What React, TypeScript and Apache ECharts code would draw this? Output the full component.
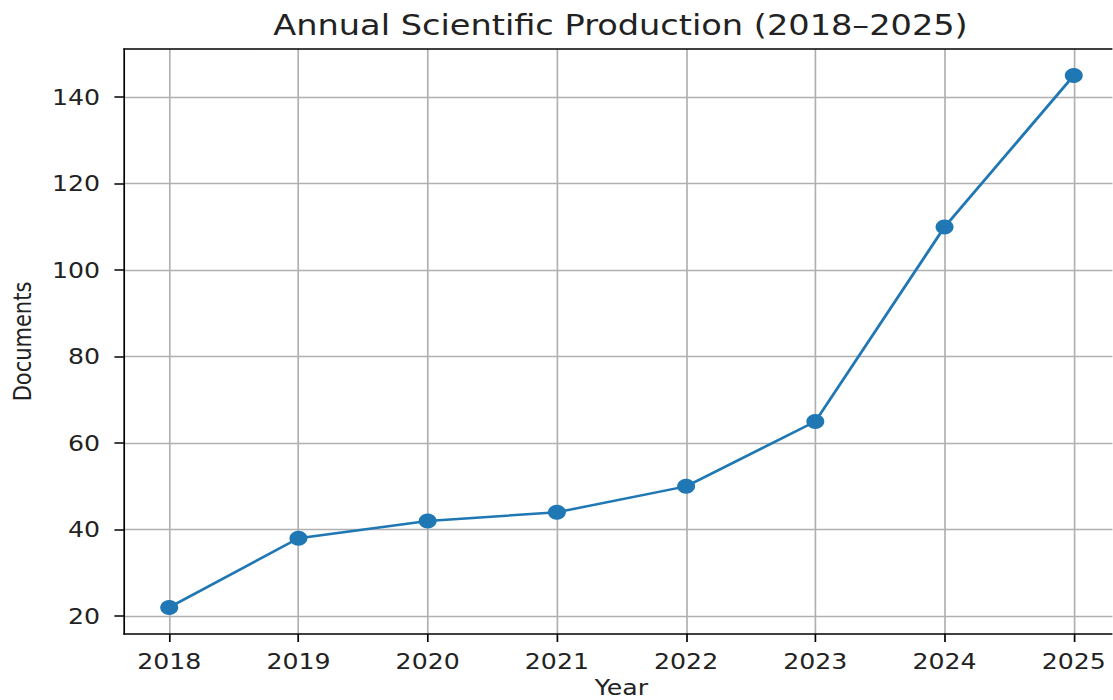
import React, { useEffect, useRef } from "react";
import * as echarts from "echarts";

const years = [2018, 2019, 2020, 2021, 2022, 2023, 2024, 2025];
const documents = [22, 38, 42, 44, 50, 65, 110, 145];
const yTicks = [20, 40, 60, 80, 100, 120, 140];
const title = "Annual Scientific Production (2018\u20132025)";
const xName = "Year";
const yName = "Documents";

// the reference image is stretched horizontally; reproduce by rendering narrower and scaling
const STRETCH = 1.2;
const W = 1113;
const H = 700;

export default function App() {
  const ref = useRef<HTMLDivElement>(null);
  useEffect(() => {
    document.body.style.margin = "0";
    document.body.style.overflow = "hidden";
    document.documentElement.style.overflow = "hidden";
    if (!ref.current) return;
    const chart = echarts.init(ref.current, undefined, { renderer: "svg" });
    const font = "DejaVu Sans";
    const sx = (v: number) => v / STRETCH;
    chart.setOption({
      animation: false,
      backgroundColor: "#ffffff",
      title: {
        text: title,
        left: sx(620.5),
        top: 11,
        padding: 0,
        textAlign: "center",
        textStyle: { fontFamily: font, fontSize: 28, fontWeight: "normal", color: "#222" },
      },
      grid: {
        left: sx(124),
        top: 49,
        width: sx(995),
        height: 585,
        containLabel: false,
        outerBoundsMode: "none",
      },
      xAxis: [
        {
          type: "value",
          min: 2017.65,
          max: 2025.35,
          interval: 1,
          name: xName,
          nameLocation: "middle",
          nameGap: 41,
          nameTextStyle: { fontFamily: font, fontSize: 21, lineHeight: 21, color: "#222" },
          axisLine: { show: true, onZero: false, lineStyle: { color: "#000", width: 1.5 } },
          axisTick: { show: true, length: 8, customValues: years, lineStyle: { color: "#000", width: 1.4 } },
          axisLabel: {
            customValues: years,
            margin: 17,
            fontFamily: font,
            fontSize: 21,
            color: "#222",
            formatter: (v: number) => String(v),
          },
          splitLine: { show: true, lineStyle: { color: "#b0b0b0", width: 1.4 } },
        },
        {
          type: "value",
          position: "top",
          min: 2017.65,
          max: 2025.35,
          axisLine: { show: true, lineStyle: { color: "#000", width: 1.5 } },
          axisTick: { show: false },
          axisLabel: { show: false },
          splitLine: { show: false },
        },
      ],
      yAxis: {
        type: "value",
        min: 15.85,
        max: 151.15,
        interval: 20,
        name: yName,
        nameLocation: "middle",
        nameGap: 75,
        nameTextStyle: { fontFamily: font, fontSize: 21, color: "#222" },
        axisLine: { show: true, onZero: false, lineStyle: { color: "#000", width: 1.4 } },
        axisTick: { show: true, length: 8, customValues: yTicks, lineStyle: { color: "#000", width: 1.5 } },
        axisLabel: {
          customValues: yTicks,
          margin: 20,
          fontFamily: font,
          fontSize: 21,
          color: "#222",
        },
        splitLine: { show: true, lineStyle: { color: "#b0b0b0", width: 1.4 } },
      },
      series: [
        {
          type: "line",
          data: years.map((y, i) => [y, documents[i]]),
          symbol: "circle",
          symbolSize: 15,
          lineStyle: { color: "#1f77b4", width: 2.5 },
          itemStyle: { color: "#1f77b4" },
          clip: false,
        },
      ],
    });
    return () => chart.dispose();
  }, []);
  return (
    <div
      style={{
        position: "relative",
        width: W,
        height: H,
        overflow: "hidden",
        background: "#fff",
      }}
    >
      <div
        ref={ref}
        style={{
          position: "absolute",
          left: 0,
          top: 0,
          width: Math.floor(W / STRETCH),
          height: H,
          transform: `scaleX(${STRETCH})`,
          transformOrigin: "0 0",
        }}
      />
    </div>
  );
}
